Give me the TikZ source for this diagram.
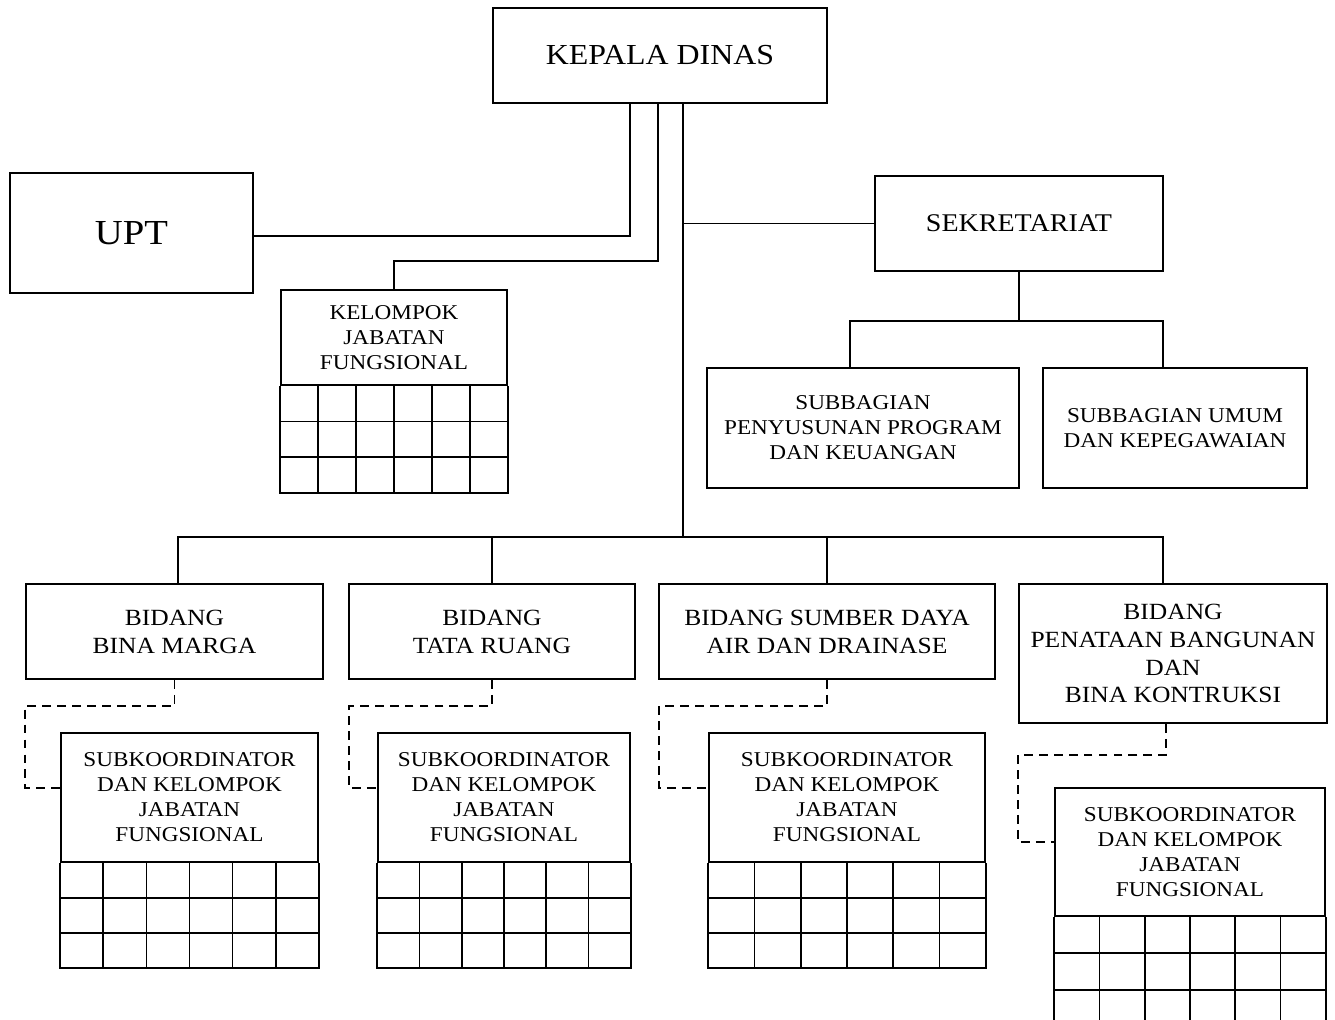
\documentclass[tikz,border=0pt]{standalone}
\usepackage{fontspec}
\setmainfont{Liberation Serif}[FakeStretch=1.1]
\usetikzlibrary{calc,positioning}

\tikzset{
  unit/.style={draw, line width=1pt, align=center, inner sep=0pt},
  small/.style={font=\fontsize{12}{14.2}\selectfont},
  mid/.style={font=\fontsize{13.2}{15.9}\selectfont},
  conn/.style={line width=1pt},
  dashconn/.style={line width=1pt, dash pattern=on 5pt off 3.5pt},
}

% table of empty cells under a node: node, row height (px), rows
\newcommand{\jabgrid}[3]{%
  \draw[conn] (#1.south west) -- ++(0,#2*#3) -| (#1.south east);
  \foreach \rw in {1,...,#3}
    \draw[conn] ($(#1.south west)+(0,\rw*#2)$) -- ($(#1.south east)+(0,\rw*#2)$);
  \foreach \cl in {1,...,5}
    \draw[conn] ($(#1.south west)!\cl/6!(#1.south east)$) -- ++(0,#2*#3);
}

\begin{document}
\begin{tikzpicture}[x=0.02cm, y=-0.02cm]
  \useasboundingbox (0,0) rectangle (1335,1020);
  \clip (0,0) rectangle (1335,1020);

  % top level
  \node[unit, minimum width=6.68cm, minimum height=1.9cm, font=\fontsize{16.5}{19}\selectfont] (kadis) at (660,55.5) {\raisebox{-2pt}{KEPALA DINAS}};
  \node[unit, minimum width=4.86cm, minimum height=2.4cm, font=\fontsize{20}{23}\selectfont] (upt) at (131.5,233) {UPT};
  \node[unit, small, minimum width=4.52cm, minimum height=1.9cm] (kjf) at (394,337.5) {KELOMPOK\\JABATAN\\FUNGSIONAL};
  \node[unit, minimum width=5.76cm, minimum height=1.9cm, font=\fontsize{14.5}{17}\selectfont] (sekr) at (1019,223.5) {SEKRETARIAT};
  \node[unit, small, minimum width=6.24cm, minimum height=2.4cm] (subpp) at (863,428) {SUBBAGIAN\\PENYUSUNAN PROGRAM\\DAN KEUANGAN};
  \node[unit, small, minimum width=5.28cm, minimum height=2.4cm] (subum) at (1175,428) {SUBBAGIAN UMUM\\DAN KEPEGAWAIAN};
  \jabgrid{kjf}{35.67}{3}

  % bidang
  \node[unit, mid, minimum width=5.94cm, minimum height=1.9cm] (bina) at (174.5,631.5) {BIDANG\\BINA MARGA};
  \node[unit, mid, minimum width=5.72cm, minimum height=1.9cm] (tata) at (492,631.5) {BIDANG\\TATA RUANG};
  \node[unit, mid, minimum width=6.72cm, minimum height=1.9cm] (sda) at (827,631.5) {BIDANG SUMBER DAYA\\AIR DAN DRAINASE};
  \node[unit, mid, minimum width=6.16cm, minimum height=2.78cm] (penataan) at (1173,653.5) {BIDANG\\PENATAAN BANGUNAN\\DAN\\BINA KONTRUKSI};

  % subkoordinator
  \node[unit, small, minimum width=5.14cm, minimum height=2.58cm] (subbina) at (189.5,797.5) {SUBKOORDINATOR\\DAN KELOMPOK\\JABATAN\\FUNGSIONAL};
  \node[unit, small, minimum width=5.04cm, minimum height=2.58cm] (subtata) at (504,797.5) {SUBKOORDINATOR\\DAN KELOMPOK\\JABATAN\\FUNGSIONAL};
  \node[unit, small, minimum width=5.52cm, minimum height=2.58cm] (subsda) at (847,797.5) {SUBKOORDINATOR\\DAN KELOMPOK\\JABATAN\\FUNGSIONAL};
  \node[unit, small, minimum width=5.4cm, minimum height=2.56cm] (subpbk) at (1190,852) {SUBKOORDINATOR\\DAN KELOMPOK\\JABATAN\\FUNGSIONAL};
  \jabgrid{subbina}{35}{3}
  \jabgrid{subtata}{35}{3}
  \jabgrid{subsda}{35}{3}
  \jabgrid{subpbk}{36.5}{3}

  % lines
  \coordinate (trunkend) at (683,537);
  \coordinate (ppdrop) at (850,368);
  \coordinate (umdrop) at (1163,368);
  \coordinate (pbkdrop) at (1163,584);
  \draw[conn] ([xshift=0.46cm]kadis.south) -- (trunkend);
  \draw[conn] ([xshift=-0.6cm]kadis.south) |- ([yshift=-0.06cm]upt.east);
  \draw[conn] ([xshift=-0.04cm]kadis.south) |- ($(kjf.north)+(0,-28)$) -- (kjf.north);
  \draw[conn] (sekr.west -| trunkend) -- (sekr.west);
  \draw[conn] (sekr.south) -- ++(0,49) coordinate (sekjoint);
  \draw[conn] (ppdrop) |- (sekjoint -| umdrop) -- (umdrop);
  \draw[conn] ([xshift=0.07cm]bina.north) |- (pbkdrop |- trunkend) -- (pbkdrop);
  \foreach \bd in {tata,sda}
    \draw[conn] (\bd.north) -- (\bd.north |- trunkend);

  % dashed
  \foreach \bd/\sb/\dx in {bina/subbina/35, tata/subtata/28, sda/subsda/49}
    \draw[dashconn] (\bd.south) -- ++(0,26) -| ($(\sb.west)+(-\dx,-9.5)$) -- ($(\sb.west)+(0,-9.5)$);
  \draw[dashconn] ([xshift=-0.14cm]penataan.south) -- ++(0,31) -| ($(subpbk.west)+(-36,-10)$) -- ($(subpbk.west)+(0,-10)$);
\end{tikzpicture}
\end{document}
